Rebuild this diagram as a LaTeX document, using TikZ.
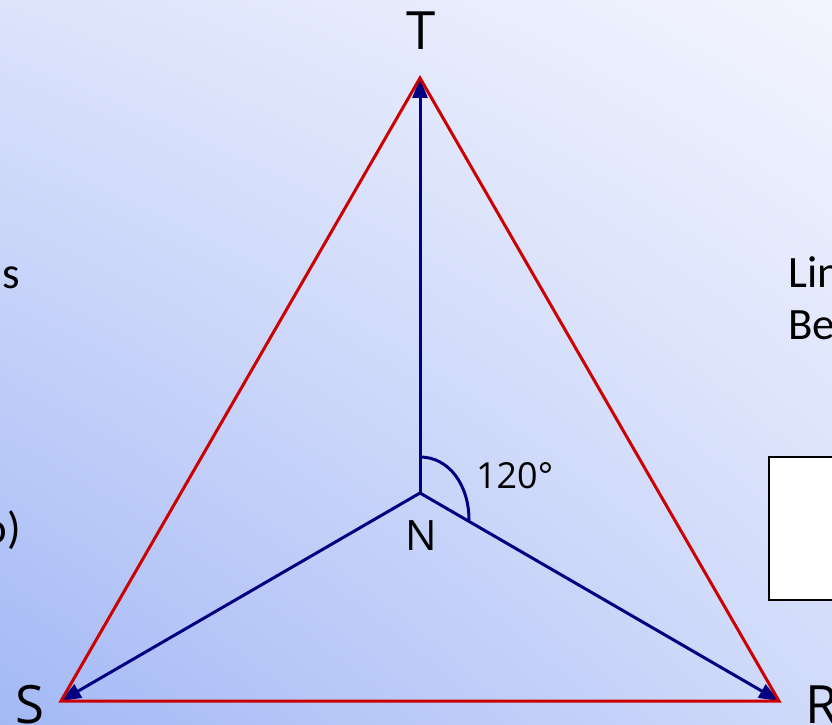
\documentclass[tikz,border=0pt]{standalone}
\usepackage{fontspec}
\setmainfont{Open Sans}
\newfontfamily\cutfont{Carlito}
\usetikzlibrary{arrows.meta,shadings}
\definecolor{edgered}{HTML}{CC0000}
\definecolor{navyline}{HTML}{000080}
\definecolor{bgBL}{HTML}{A3B8F5}
\definecolor{bgTL}{HTML}{DCE3FB}
\definecolor{bgTR}{HTML}{F3F5FE}
\definecolor{bgBR}{HTML}{D0DAFA}
\tikzset{
  rededge/.style={draw=edgered, line width=3bp, line join=miter},
  bluearrow/.style={draw=navyline, line width=3bp, -{Triangle[length=20bp,width=15bp]}},
  biglabel/.style={inner sep=0pt, anchor=base, font=\fontsize{53}{60}\selectfont},
  midlabel/.style={inner sep=0pt, anchor=base, font=\fontsize{42}{48}\selectfont},
  anglelabel/.style={inner sep=0pt, anchor=base west, font=\fontsize{36}{42}\selectfont},
  cuttext/.style={inner sep=0pt, anchor=base west, font=\cutfont\fontsize{45}{52}\selectfont},
}
\begin{document}
\begin{tikzpicture}[x=1bp, y=-1bp]
\useasboundingbox (0,0) rectangle (832,725);
\begin{scope}[y=1bp]
  \shade[lower left=bgBL, upper left=bgTL, upper right=bgTR, lower right=bgBR]
    (0,-725) rectangle (832,0);
\end{scope}
\clip (0,0) rectangle (832,725);

% vertices
\coordinate (T) at (420,78);
\coordinate (S) at (61,701);
\coordinate (R) at (779,701);
\coordinate (N) at (420,493);

% blue arrows from centre
\draw[bluearrow] (N) -- (T);
\draw[bluearrow] (N) -- (S);
\draw[bluearrow] (N) -- (R);

% red triangle
\draw[rededge] (S) -- (T) -- (R) -- cycle;

% angle mark
\coordinate (arcA) at (420,457);
\coordinate (arcB) at (469,520);
\draw[draw=navyline, line width=3bp] (arcA) .. controls (449,457) and (469,485) .. (arcB);

% labels
\node[biglabel] (labT) at (421,50) {T};
\node[biglabel] (labS) at (30,723) {S};
\node[biglabel, anchor=base west] (labR) at (805,723) {R};
\node[midlabel] (labN) at (421,550) {N};
\node[anglelabel] (lab120) at (476,488) {120°};

% cut-off side texts
\node[cuttext, anchor=base east] (leftS) at (20,288) {s};
\node[cuttext, anchor=base east] (leftO) at (21,543) {o)};
\node[cuttext] (rightLin) at (788,287) {Lin};
\node[cuttext] (rightBe) at (788,339) {Be};

% white box at right
\draw[fill=white, draw=black, line width=2.5bp] (769,457) rectangle (860,600);
\end{tikzpicture}
\end{document}
